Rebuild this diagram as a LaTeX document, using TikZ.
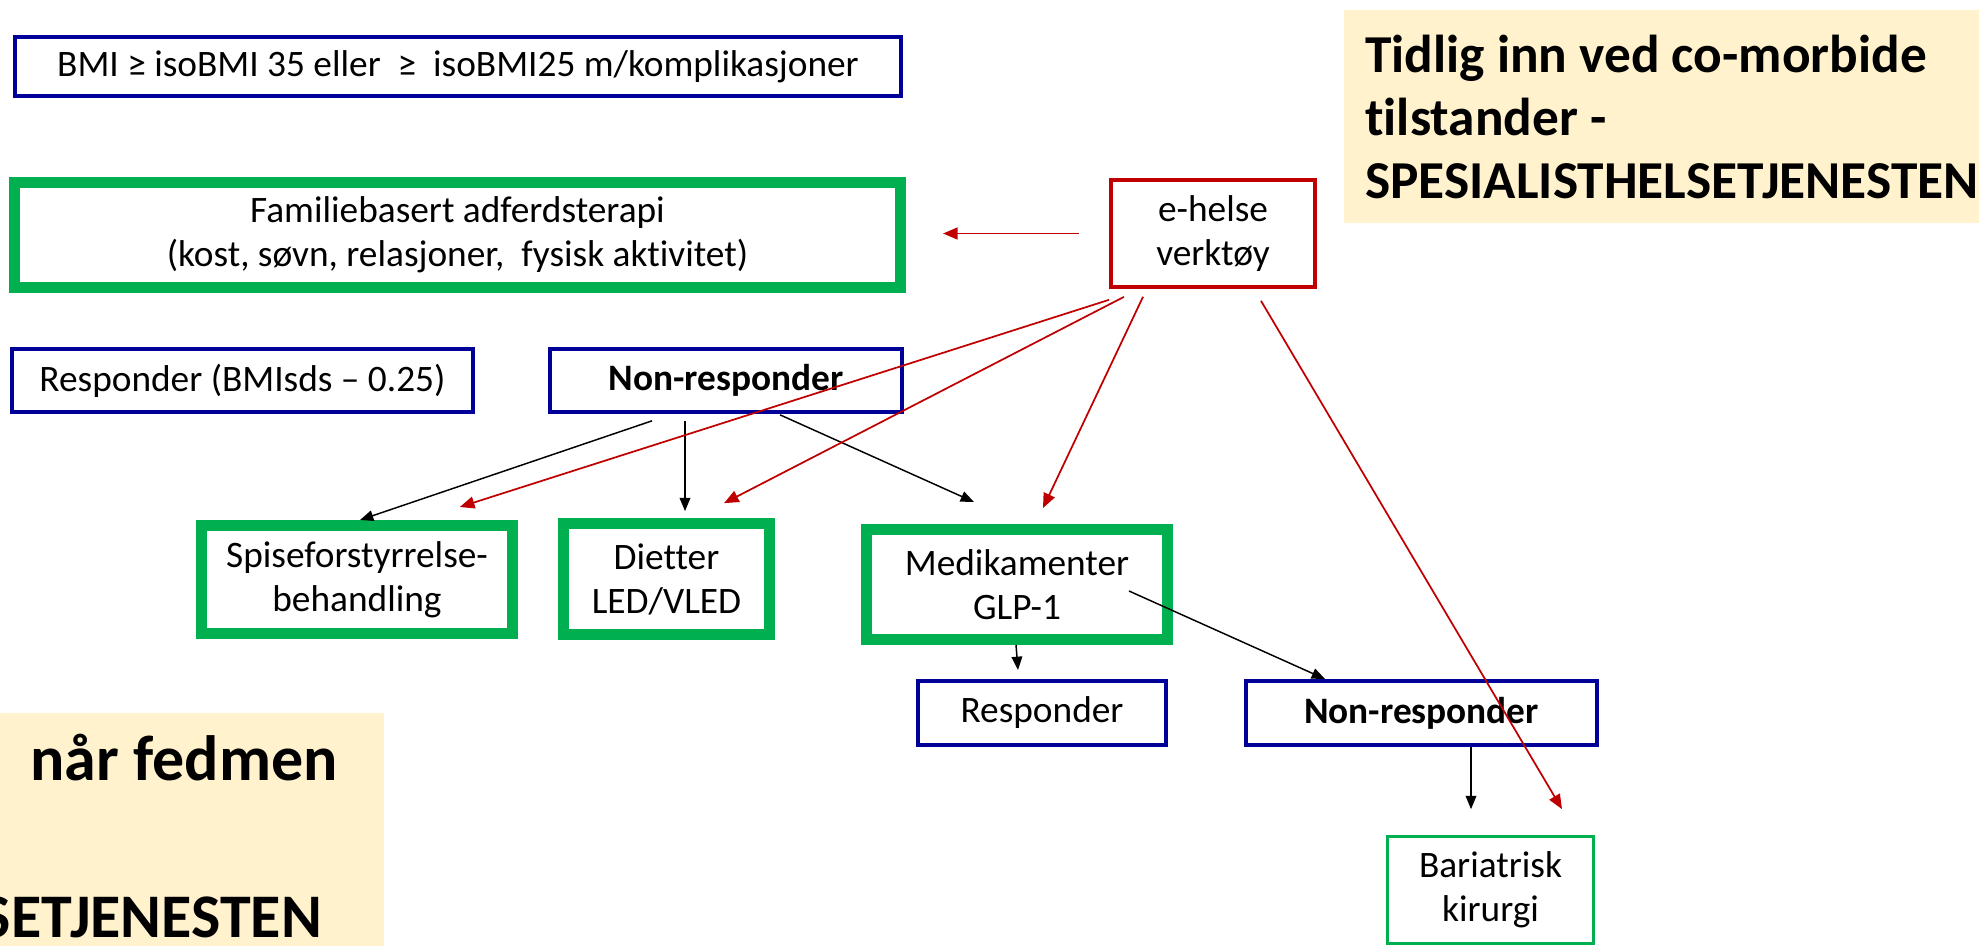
\documentclass[tikz,border=0pt]{standalone}
\usepackage{fontspec}
\setmainfont{Carlito}[Ligatures=NoCommon]
\usetikzlibrary{arrows.meta,calc}

\definecolor{boxblue}{RGB}{0,0,153}
\definecolor{boxgreen}{RGB}{0,176,80}
\definecolor{boxred}{RGB}{192,0,0}
\definecolor{notefill}{RGB}{255,242,204}

\tikzset{
  box/.style={rectangle, inner sep=0pt, align=center, font=\fontsize{28}{33}\selectfont},
  bluebox/.style={box, draw=boxblue, line width=3pt},
  greenbox/.style={box, draw=boxgreen, line width=8.25pt},
  redbox/.style={box, draw=boxred, line width=3pt},
  thinbox/.style={box, draw=boxgreen, line width=2.25pt},
  blk/.style={draw=black, line width=1.1pt, -{Triangle[length=10pt,width=8pt]}},
  rd/.style={draw=boxred, line width=1.3pt, -{Triangle[length=11pt,width=9pt]}},
  note/.style={inner sep=0pt, align=left, font=\bfseries\fontsize{40}{47}\selectfont},
}

\begin{document}
\begin{tikzpicture}[x=0.75pt,y=0.75pt,yscale=-1]
	\useasboundingbox (0,0) rectangle (1979,946);
	\clip (0,0) rectangle (1979,946);

	% yellow notes
	\fill [notefill] (1344,10) rectangle (1979,223);
	\fill [notefill] (0,713) rectangle (384,946);
	\node [note, anchor=base west] (tidlig) at (1365,198) {Tidlig inn ved co-morbide\\tilstander -\\SPESIALISTHELSETJENESTEN};
	\node [note, font=\bfseries\fontsize{48}{58}\selectfont, anchor=base west] (fedmen) at (30,780) {når fedmen};
	\node [note, font=\bfseries\fontsize{46.5}{58}\selectfont, anchor=base east] (tjeneste) at (322,937) {SETJENESTEN};

	% boxes
	\node [bluebox, minimum width=665pt, minimum height=44pt] (bmi) at (458,66.5) {BMI ≥ isoBMI 35 eller\ \ ≥\ \ isoBMI25 m/komplikasjoner};
	\node [greenbox, minimum width=664.5pt, minimum height=79pt] (fam) at (457.5,235) {Familiebasert adferdsterapi\\(kost, søvn, relasjoner,\ \ fysisk aktivitet)};
	\node [redbox, minimum width=153pt, minimum height=80pt] (ehelse) at (1213,233.5) {e-helse\\verktøy};
	\node [bluebox, minimum width=346pt, minimum height=47pt] (respA) at (242.5,380.5) {Responder (BMIsds – 0.25)};
	\node [bluebox, minimum width=264pt, minimum height=47pt, font=\bfseries\fontsize{28}{33}\selectfont] (nonA) at (726,380.5) {Non-responder};
	\node [greenbox, minimum width=233pt, minimum height=81pt] (spise) at (357,579.5) {Spiseforstyrrelse-\\behandling};
	\node [greenbox, minimum width=154.5pt, minimum height=83pt] (diet) at (666.5,579) {Dietter\\LED/VLED};
	\node [greenbox, minimum width=226pt, minimum height=82.5pt] (medi) at (1017,584.5) {Medikamenter\\GLP-1};
	\node [bluebox, minimum width=186pt, minimum height=48pt] (respB) at (1042,713) {Responder};
	\node [bluebox, minimum width=263pt, minimum height=48pt, font=\bfseries\fontsize{28}{33}\selectfont] (nonB) at (1421.5,713) {Non-responder};
	\node [thinbox, minimum width=154.5pt, minimum height=80pt] (bari) at (1490.5,890) {Bariatrisk\\kirurgi};

	% black arrows
	\draw [blk] ($(nonA.south)+(-74,7)$) -- ($(spise.north)+(3,0)$);
	\draw [blk] ($(nonA.south)+(-41,7)$) -- ($(diet.north)+(18.5,-7)$);
	\draw [blk] ($(nonA.south)+(54,1)$) -- ($(medi.north)+(-43,-22)$);
	\draw [blk] ($(medi.center)+(112,6.5)$) -- ($(nonB.north)+(-96.5,0)$);
	\draw [blk] ($(medi.south)+(-1,0)$) -- ($(respB.north)+(-24,-9)$);
	\draw [blk] ($(nonB.south)+(49.5,0)$) -- ($(bari.north)+(-19.5,-26)$);

	% red arrows
	\draw [rd] ($(ehelse.west)+(-30,0)$) -- ($(fam.east)+(37,-1.5)$);
	\draw [rd] ($(ehelse.south)+(-104,11)$) -- ($(spise.north east)+(-58,-13)$);
	\draw [rd] ($(ehelse.south)+(-89,8)$) -- ($(diet.north east)+(-51,-15)$);
	\draw [rd] ($(ehelse.south)+(-70,8)$) -- ($(medi.north)+(26,-16)$);
	\draw [rd] ($(ehelse.south)+(48,12)$) -- ($(bari.north)+(71.5,-26)$);

\end{tikzpicture}
\end{document}
